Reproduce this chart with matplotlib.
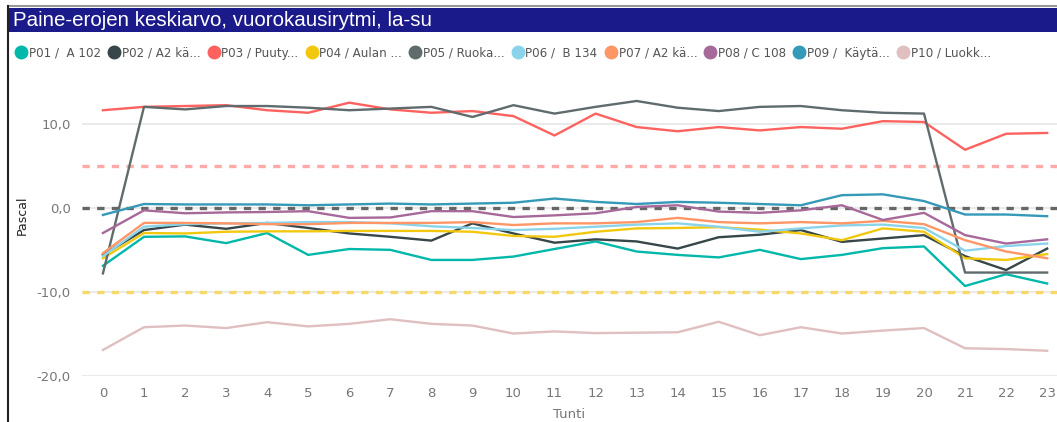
import matplotlib.pyplot as plt
from matplotlib.lines import Line2D
from matplotlib.patches import Rectangle

hours = list(range(24))

p01 = [-6.9, -3.45, -3.4, -4.2, -3.0, -5.6, -4.9, -5.0, -6.2, -6.2, -5.8, -4.9,
       -4.0, -5.2, -5.6, -5.9, -5.0, -6.1, -5.6, -4.8, -4.6, -9.3, -7.9, -9.0]
p02 = [-5.6, -2.65, -2.0, -2.5, -1.8, -2.4, -3.05, -3.45, -3.9, -1.85, -3.05, -4.15,
       -3.75, -4.0, -4.85, -3.5, -3.2, -2.65, -4.05, -3.65, -3.25, -5.75, -7.4, -4.85]
p03 = [11.6, 12.0, 12.1, 12.2, 11.6, 11.3, 12.5, 11.7, 11.3, 11.5, 10.9, 8.6,
       11.2, 9.6, 9.1, 9.6, 9.2, 9.6, 9.4, 10.3, 10.2, 6.9, 8.8, 8.9]
p04 = [-6.0, -3.0, -3.05, -2.85, -2.8, -2.8, -2.75, -2.75, -2.75, -2.85, -3.35, -3.45,
       -2.85, -2.45, -2.4, -2.3, -2.6, -3.05, -3.85, -2.45, -2.85, -6.0, -6.2, -5.5]
p05 = [-7.8, 12.0, 11.7, 12.1, 12.1, 11.9, 11.6, 11.8, 12.0, 10.8, 12.2, 11.2,
       12.0, 12.7, 11.9, 11.5, 12.0, 12.1, 11.6, 11.3, 11.2, -7.7, -7.7, -7.7]
p06 = [-5.75, -2.25, -1.95, -1.85, -1.8, -1.7, -1.7, -1.85, -2.2, -2.4, -2.65, -2.5,
       -2.25, -2.0, -1.85, -2.25, -2.85, -2.45, -2.1, -2.0, -2.4, -5.1, -4.55, -4.25]
p07 = [-5.4, -1.8, -1.8, -1.85, -1.95, -1.95, -1.8, -1.8, -1.8, -1.7, -2.05, -1.85,
       -1.85, -1.7, -1.2, -1.7, -1.85, -1.7, -1.85, -1.55, -1.95, -3.85, -5.2, -6.0]
p08 = [-3.0, -0.3, -0.65, -0.55, -0.5, -0.4, -1.2, -1.15, -0.4, -0.4, -1.1, -0.9,
       -0.65, 0.1, 0.3, -0.45, -0.6, -0.3, 0.3, -1.45, -0.6, -3.25, -4.25, -3.75]
p09 = [-0.85, 0.45, 0.4, 0.4, 0.4, 0.3, 0.4, 0.5, 0.4, 0.5, 0.6, 1.1,
       0.7, 0.45, 0.7, 0.6, 0.45, 0.3, 1.5, 1.6, 0.8, -0.8, -0.8, -1.0]
p10 = [-16.9, -14.2, -14.0, -14.3, -13.6, -14.1, -13.8, -13.25, -13.8, -14.0, -14.95, -14.7,
       -14.9, -14.85, -14.8, -13.55, -15.15, -14.2, -14.95, -14.6, -14.3, -16.7, -16.8, -17.0]

series = [p01, p02, p03, p04, p05, p06, p07, p08, p09, p10]
names = ["P01 /  A 102", "P02 / A2 kä...", "P03 / Puuty...", "P04 / Aulan ...",
         "P05 / Ruoka...", "P06 /  B 134", "P07 / A2 kä...", "P08 / C 108",
         "P09 /  Käytä...", "P10 / Luokk..."]
colors = ["#01B8AA", "#374649", "#FD625E", "#F2C80F", "#5F6B6D",
          "#8AD4EB", "#FE9666", "#A66999", "#3599B8", "#DFBFBF"]

# reference levels
ref_values = [5, 0, -10]
ref_colors = ["#FFAAA8", "#666666", "#F7D86A"]

fig = plt.figure(figsize=(10.57, 4.22), dpi=100)

# title bar and frame
fig.add_artist(Rectangle((8/1057, 1 - 32/422), 1, 24/422, transform=fig.transFigure,
                         facecolor="#1A1A8A", edgecolor="none"))
fig.add_artist(Line2D([8/1057, 1], [1 - 6/422, 1 - 6/422], transform=fig.transFigure,
                      color="#999999", lw=1.5))
fig.add_artist(Line2D([8/1057, 8/1057], [0, 1 - 6/422], transform=fig.transFigure,
                      color="#222222", lw=1.5))
fig.text(13/1057, 1 - 20/422, "Paine-erojen keskiarvo, vuorokausirytmi, la-su",
         color="white", fontsize=14.8, va="center", ha="left", family="Liberation Sans")

ax = fig.add_axes([82/1057, 1 - 376/422, (1057 - 82)/1057, (376 - 85)/422])
ax.set_axisbelow(True)

for v, c in zip(ref_values, ref_colors):
    ax.axhline(v, color=c, lw=2.4, dashes=(2.2, 2.2), zorder=2)

for y, c, n in zip(series, colors, names):
    ax.plot(hours, y, color=c, lw=1.7, label=n, zorder=3)

ax.set_xlim(-0.51, 23.24)
ax.set_ylim(-20, 14.6)
ax.set_yticks([10, 0, -10, -20])
ax.set_yticklabels(["10,0", "0,0", "-10,0", "-20,0"])
ax.set_xticks(hours)
ax.grid(axis="y", color="#E6E6E6", lw=1.2)
ax.tick_params(length=0, colors="#777777", labelsize=9.5, pad=8)
for s in ax.spines.values():
    s.set_visible(False)
ax.set_xlabel("Tunti", color="#777777", fontsize=9.5, labelpad=6)
fig.text(22/1057, 1 - 215/422, "Pascal", color="#222222", fontsize=9,
         rotation=90, ha="center", va="center")

handles = [Line2D([], [], ls="none", marker="o", ms=9, color=c) for c in colors]
fig.legend(handles, names, loc="center left", bbox_to_anchor=(12/1057, 1 - 53/422),
           ncol=10, frameon=False, handlelength=0.7, handletextpad=0.3,
           columnspacing=0.75, fontsize=8.6, labelcolor="#555555", borderaxespad=0)

plt.savefig("out.png", dpi=100)
